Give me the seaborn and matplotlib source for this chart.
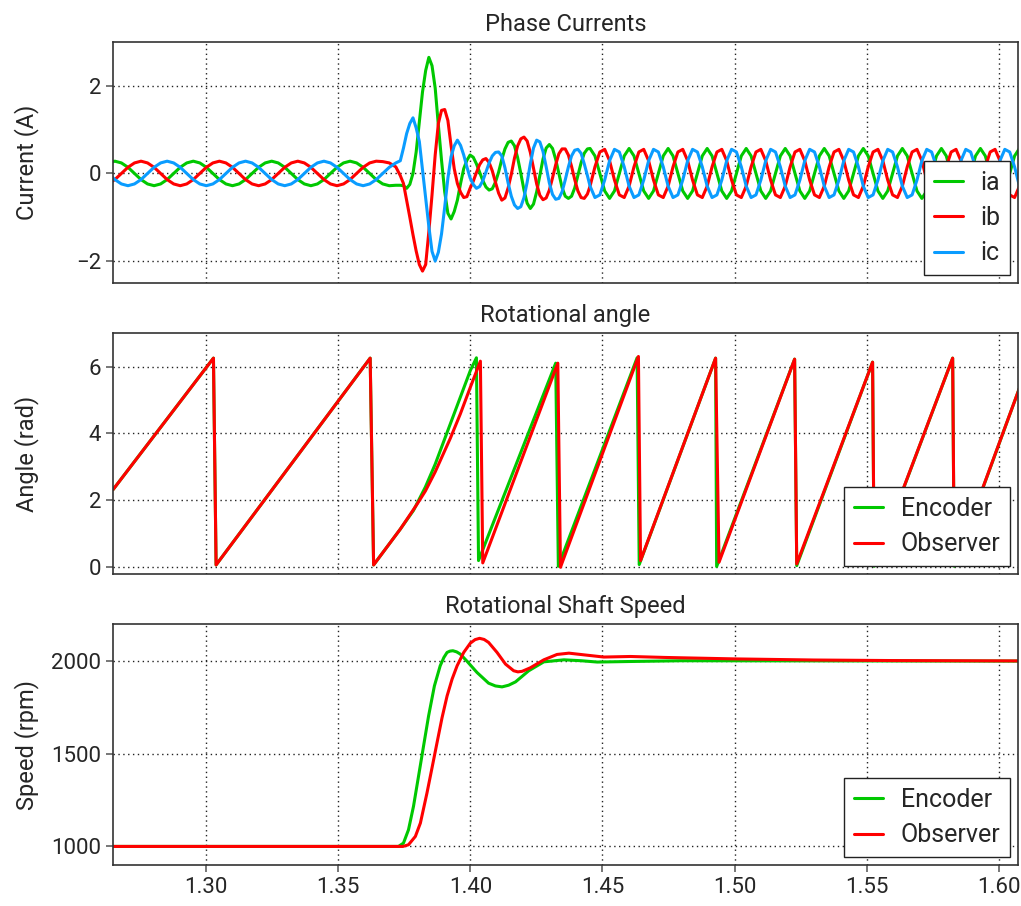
import numpy as np
import pandas as pd
import matplotlib
matplotlib.use('Agg')
import matplotlib.pyplot as plt
from matplotlib.ticker import FormatStrFormatter
import seaborn as sns

# ---------------- phase currents (A) ----------------
# three sampled blocks: before the step, the transient, steady state at 2000 rpm
pre_t0, pre_dt = 1.26303, 0.002472
mid_t0, mid_dt = 1.3735, 0.0012
post_t0, post_dt = 1.4453, 0.0018463

ia_pre = [0.24, 0.28, 0.24, 0.14, 0.00, -0.14, -0.24, -0.28, -0.24, -0.14, 0.00, 0.14,
          0.24, 0.28, 0.24, 0.14, 0.00, -0.14, -0.24, -0.28, -0.24, -0.14, 0.00, 0.14,
          0.24, 0.28, 0.24, 0.14, 0.00, -0.14, -0.24, -0.28, -0.24, -0.14, 0.00, 0.14,
          0.24, 0.28, 0.24, 0.14, 0.00, -0.14, -0.24, -0.28, -0.27]
ib_pre = [-0.24, -0.14, 0.00, 0.14, 0.24, 0.28, 0.24, 0.14, 0.00, -0.14, -0.24, -0.28,
          -0.24, -0.14, 0.00, 0.14, 0.24, 0.28, 0.24, 0.14, 0.00, -0.14, -0.24, -0.28,
          -0.24, -0.14, 0.00, 0.14, 0.24, 0.28, 0.24, 0.14, 0.00, -0.14, -0.24, -0.28,
          -0.24, -0.14, 0.00, 0.14, 0.24, 0.28, 0.27, 0.24, 0.15]
ic_pre = [0.00, -0.14, -0.24, -0.28, -0.24, -0.14, 0.00, 0.14, 0.24, 0.28, 0.24, 0.14,
          0.00, -0.14, -0.24, -0.28, -0.24, -0.14, 0.00, 0.14, 0.24, 0.28, 0.24, 0.14,
          0.00, -0.14, -0.24, -0.28, -0.24, -0.14, 0.00, 0.14, 0.24, 0.28, 0.24, 0.14,
          0.00, -0.14, -0.24, -0.28, -0.24, -0.14, 0.00, 0.14, 0.24]

ia_mid = [-0.27, -0.28, -0.34, -0.25, 0.00, 0.49, 1.17, 1.86, 2.35, 2.65,
          2.46, 1.95, 1.10, 0.30, -0.42, -0.91, -1.04, -0.87, -0.61, -0.23,
          0.11, 0.30, 0.42, 0.37, 0.22, 0.03, -0.16, -0.31, -0.38, -0.35,
          -0.20, 0.03, 0.32, 0.56, 0.71, 0.74, 0.63, 0.36, 0.00, -0.38,
          -0.68, -0.80, -0.70, -0.42, -0.04, 0.33, 0.58, 0.66, 0.57, 0.32,
          0.00, -0.32, -0.52, -0.57, -0.52, -0.33, -0.05, 0.24, 0.46, 0.56]
ib_mid = [-0.05, -0.23, -0.61, -1.00, -1.40, -1.77, -2.08, -2.23, -2.08, -1.33,
          -0.49, 0.42, 1.14, 1.44, 1.46, 1.21, 0.64, 0.11, -0.23, -0.43,
          -0.55, -0.53, -0.34, -0.18, 0.02, 0.20, 0.31, 0.34, 0.25, 0.06,
          -0.20, -0.45, -0.61, -0.56, -0.33, -0.02, 0.35, 0.63, 0.79, 0.83,
          0.74, 0.48, 0.12, -0.24, -0.50, -0.60, -0.56, -0.38, -0.10, 0.20,
          0.45, 0.56, 0.56, 0.42, 0.16, -0.14, -0.40, -0.55, -0.57, -0.47]
ic_mid = [0.29, 0.58, 0.91, 1.14, 1.27, 1.04, 0.73, 0.08, -0.55, -1.21,
          -1.78, -2.00, -1.80, -1.38, -0.77, -0.11, 0.38, 0.63, 0.76, 0.64,
          0.42, 0.15, -0.10, -0.25, -0.34, -0.30, -0.17, 0.03, 0.24, 0.40,
          0.48, 0.49, 0.40, 0.13, -0.22, -0.52, -0.72, -0.80, -0.76, -0.55,
          -0.20, 0.22, 0.58, 0.76, 0.72, 0.50, 0.15, -0.22, -0.48, -0.59,
          -0.57, -0.42, -0.15, 0.15, 0.40, 0.53, 0.55, 0.46, 0.22, -0.05]

ia_post = [0.57, 0.40, 0.00, -0.40, -0.57, -0.40, 0.00, 0.40,
           0.57, 0.40, 0.00, -0.40, -0.57, -0.40, 0.00, 0.40,
           0.57, 0.40, 0.00, -0.40, -0.57, -0.40, 0.00, 0.40,
           0.57, 0.40, 0.00, -0.40, -0.57, -0.40, 0.00, 0.40,
           0.57, 0.40, 0.00, -0.40, -0.57, -0.40, 0.00, 0.40,
           0.57, 0.40, 0.00, -0.40, -0.57, -0.40, 0.00, 0.40,
           0.57, 0.40, 0.00, -0.40, -0.57, -0.40, 0.00, 0.40,
           0.57, 0.40, 0.00, -0.40, -0.57, -0.40, 0.00, 0.40,
           0.57, 0.40, 0.00, -0.40, -0.57, -0.40, 0.00, 0.40,
           0.57, 0.40, 0.00, -0.40, -0.57, -0.40, 0.00, 0.40,
           0.57, 0.40, 0.00, -0.40, -0.57, -0.40, 0.00, 0.40,
           0.57]
ib_post = [-0.29, 0.15, 0.49, 0.55, 0.29, -0.15, -0.49, -0.55,
           -0.29, 0.15, 0.49, 0.55, 0.29, -0.15, -0.49, -0.55,
           -0.29, 0.15, 0.49, 0.55, 0.29, -0.15, -0.49, -0.55,
           -0.29, 0.15, 0.49, 0.55, 0.29, -0.15, -0.49, -0.55,
           -0.29, 0.15, 0.49, 0.55, 0.29, -0.15, -0.49, -0.55,
           -0.29, 0.15, 0.49, 0.55, 0.29, -0.15, -0.49, -0.55,
           -0.29, 0.15, 0.49, 0.55, 0.29, -0.15, -0.49, -0.55,
           -0.29, 0.15, 0.49, 0.55, 0.29, -0.15, -0.49, -0.55,
           -0.29, 0.15, 0.49, 0.55, 0.29, -0.15, -0.49, -0.55,
           -0.29, 0.15, 0.49, 0.55, 0.29, -0.15, -0.49, -0.55,
           -0.29, 0.15, 0.49, 0.55, 0.29, -0.15, -0.49, -0.55,
           -0.29]
ic_post = [-0.29, -0.55, -0.49, -0.15, 0.29, 0.55, 0.49, 0.15,
           -0.29, -0.55, -0.49, -0.15, 0.29, 0.55, 0.49, 0.15,
           -0.29, -0.55, -0.49, -0.15, 0.29, 0.55, 0.49, 0.15,
           -0.29, -0.55, -0.49, -0.15, 0.29, 0.55, 0.49, 0.15,
           -0.29, -0.55, -0.49, -0.15, 0.29, 0.55, 0.49, 0.15,
           -0.29, -0.55, -0.49, -0.15, 0.29, 0.55, 0.49, 0.15,
           -0.29, -0.55, -0.49, -0.15, 0.29, 0.55, 0.49, 0.15,
           -0.29, -0.55, -0.49, -0.15, 0.29, 0.55, 0.49, 0.15,
           -0.29, -0.55, -0.49, -0.15, 0.29, 0.55, 0.49, 0.15,
           -0.29, -0.55, -0.49, -0.15, 0.29, 0.55, 0.49, 0.15,
           -0.29, -0.55, -0.49, -0.15, 0.29, 0.55, 0.49, 0.15,
           -0.29]

# ---------------- rotational angle (rad), vertices ----------------
enc_ang_t = [1.2648, 1.3028, 1.3038, 1.3621, 1.3634, 1.3735, 1.3785, 1.3830, 1.3867,
             1.3924, 1.3962, 1.4000, 1.4023, 1.4031, 1.4323, 1.4333, 1.4631, 1.4639,
             1.4928, 1.4932, 1.5227, 1.5235, 1.5522, 1.5528, 1.5825, 1.5831, 1.6077]
enc_ang = [2.32, 6.25, 0.07, 6.25, 0.07, 1.14, 1.70, 2.40, 3.08,
           4.28, 5.08, 5.88, 6.26, 0.20, 6.10, 0.03, 6.26, 0.08,
           6.25, 0.02, 6.22, 0.05, 6.13, 0.03, 6.25, 0.03, 5.34]
obs_ang_t = [1.2648, 1.3028, 1.3038, 1.3621, 1.3634, 1.3735, 1.3798, 1.3830, 1.3867,
             1.3924, 1.3962, 1.4000, 1.4038, 1.4047, 1.4331, 1.4341, 1.4636, 1.4644,
             1.4928, 1.4941, 1.5227, 1.5235, 1.5522, 1.5528, 1.5825, 1.5831, 1.6077]
obs_ang = [2.32, 6.25, 0.07, 6.25, 0.07, 1.14, 1.88, 2.28, 2.85,
           3.85, 4.58, 5.38, 6.16, 0.13, 6.10, 0.00, 6.30, 0.20,
           6.25, 0.15, 6.22, 0.10, 6.13, 0.05, 6.25, 0.05, 5.34]

# ---------------- shaft speed (rpm) ----------------
enc_spd_t = [1.2640, 1.3728, 1.3747, 1.3766, 1.3785, 1.3804, 1.3823, 1.3842, 1.3864,
             1.3886, 1.3900, 1.3912, 1.3923, 1.3934, 1.3948, 1.3962, 1.3987, 1.4025,
             1.4069, 1.4095, 1.4120, 1.4145, 1.4171, 1.4221, 1.4278, 1.4354, 1.4420,
             1.4480, 1.4606, 1.4796, 1.6100]
enc_spd = [1000, 1000, 1018, 1090, 1217, 1379, 1542, 1704, 1866,
           1975, 2020, 2047, 2054, 2056, 2050, 2038, 2000, 1939,
           1881, 1866, 1861, 1870, 1888, 1948, 1996, 2007, 2002,
           1995, 1998, 2002, 2000]
obs_spd_t = [1.2640, 1.3745, 1.3766, 1.3792, 1.3811, 1.3836, 1.3855, 1.3874, 1.3893,
             1.3912, 1.3931, 1.3950, 1.3975, 1.4000, 1.4018, 1.4035, 1.4052, 1.4069,
             1.4101, 1.4133, 1.4164, 1.4180, 1.4196, 1.4227, 1.4278, 1.4328, 1.4373,
             1.4429, 1.4505, 1.4606, 1.4732, 1.4796, 1.5000, 1.5300, 1.5600, 1.6100]
obs_spd = [1000, 1000, 1009, 1054, 1126, 1289, 1424, 1560, 1695,
           1812, 1903, 1975, 2047, 2097, 2116, 2123, 2117, 2101,
           2047, 1984, 1948, 1942, 1945, 1964, 2007, 2036, 2043,
           2034, 2022, 2025, 2020, 2018, 2012, 2006, 2003, 2001]

# ---------------- build tables ----------------
t_cur = np.concatenate([pre_t0 + pre_dt * np.arange(len(ia_pre)),
                        mid_t0 + mid_dt * np.arange(len(ia_mid)),
                        post_t0 + post_dt * np.arange(len(ia_post))])
phases = {'ia': ia_pre + ia_mid + ia_post,
          'ib': ib_pre + ib_mid + ib_post,
          'ic': ic_pre + ic_mid + ic_post}
cur = pd.concat([pd.DataFrame({'t': t_cur, 'i': v, 'phase': k}) for k, v in phases.items()])

ang = pd.concat([pd.DataFrame({'t': enc_ang_t, 'a': enc_ang, 'src': 'Encoder'}),
                 pd.DataFrame({'t': obs_ang_t, 'a': obs_ang, 'src': 'Observer'})])
spd = pd.concat([pd.DataFrame({'t': enc_spd_t, 's': enc_spd, 'src': 'Encoder'}),
                 pd.DataFrame({'t': obs_spd_t, 's': obs_spd, 'src': 'Observer'})])

GREEN, RED, BLUE = '#00c800', '#ff0000', '#0a9cff'

sns.set_theme(style='white')
plt.rcParams['font.family'] = ['Roboto', 'DejaVu Sans']

fig, axes = plt.subplots(3, 1, figsize=(10.21, 9.06), dpi=100, sharex=True)
fig.subplots_adjust(left=0.1107, right=0.997, top=0.9536, bottom=0.0453, hspace=0.208)

sns.lineplot(data=cur, x='t', y='i', hue='phase', palette=[GREEN, RED, BLUE],
             estimator=None, sort=False, lw=2.2, ax=axes[0])
sns.lineplot(data=ang, x='t', y='a', hue='src', palette=[GREEN, RED],
             estimator=None, sort=False, lw=2.2, ax=axes[1])
sns.lineplot(data=spd, x='t', y='s', hue='src', palette=[GREEN, RED],
             estimator=None, sort=False, lw=2.2, ax=axes[2])

titles = ['Phase Currents', 'Rotational angle', 'Rotational Shaft Speed']
ylabels = ['Current (A)', 'Angle (rad)', 'Speed (rpm)']
ylims = [(-2.5, 3.0), (-0.2, 7.0), (900, 2200)]
yticks = [[-2, 0, 2], [0, 2, 4, 6], [1000, 1500, 2000]]

for ax, title, yl, lim, yt in zip(axes, titles, ylabels, ylims, yticks):
    ax.set_title(title, fontsize=17, pad=8)
    ax.set_ylabel(yl, fontsize=17)
    ax.yaxis.set_label_coords(-0.082, 0.5)
    ax.set_xlabel('')
    ax.set_ylim(*lim)
    ax.set_yticks(yt)
    ax.set_xlim(1.2648, 1.6072)
    ax.grid(True, color='#222222', linestyle=(0, (1, 2.5)), linewidth=1.0)
    for sp in ax.spines.values():
        sp.set_color('#333333')
        sp.set_linewidth(1.2)
    ax.tick_params(axis='y', labelsize=16, length=5, color='#666666', left=True)
    handles, labels = ax.get_legend_handles_labels()
    leg = ax.legend(handles, labels, loc='lower right', fontsize=18, frameon=True,
                    fancybox=False, framealpha=1, edgecolor='#222222',
                    handlelength=1.15, handletextpad=0.7, borderaxespad=0.3,
                    borderpad=0.4, labelspacing=0.45)
    leg.get_frame().set_linewidth(1.0)
    for h in leg.get_lines():
        h.set_linewidth(2.2)

for ax in axes[:2]:
    ax.tick_params(axis='x', length=0)
axes[2].tick_params(axis='x', labelsize=16, length=5, color='#666666', bottom=True)
axes[2].set_xticks([1.30, 1.35, 1.40, 1.45, 1.50, 1.55, 1.60])
axes[2].xaxis.set_major_formatter(FormatStrFormatter('%.2f'))

fig.savefig('out.png', dpi=100)
